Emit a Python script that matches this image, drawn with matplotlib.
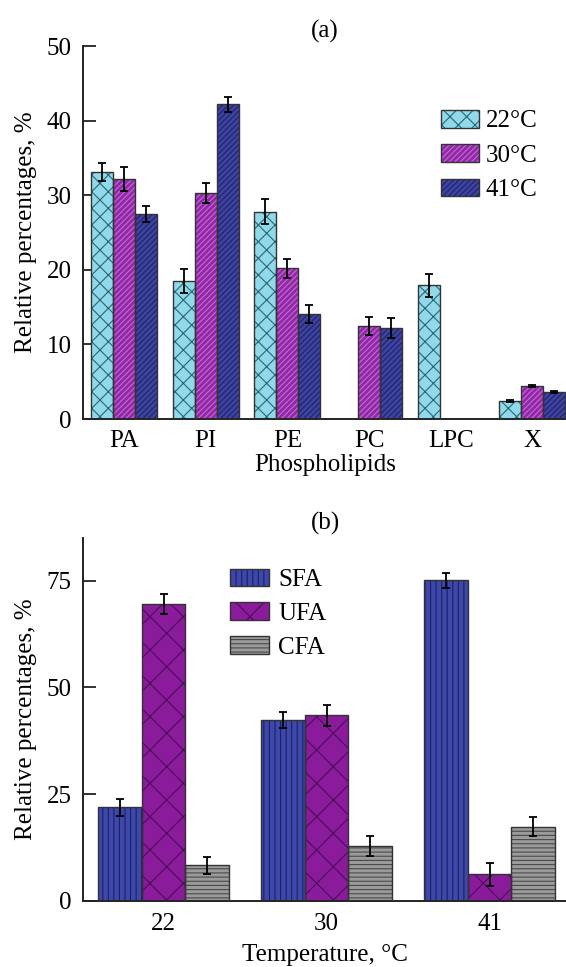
import numpy as np
import matplotlib.pyplot as plt
from matplotlib.patches import Patch
from matplotlib.legend_handler import HandlerTuple

plt.rcParams['font.family'] = ['Liberation Serif', 'DejaVu Serif']
plt.rcParams['hatch.linewidth'] = 0.8

# (a) phospholipid composition
lipids = ['PA', 'PI', 'PE', 'PC', 'LPC', 'X']
temps_a = ['22°C', '30°C', '41°C']
pl_22 = [33.1, 18.5, 27.8, np.nan, 17.9, 2.4]
pl_22_err = [1.2, 1.6, 1.7, 0, 1.5, 0.1]
pl_30 = [32.2, 30.3, 20.2, 12.5, np.nan, 4.4]
pl_30_err = [1.6, 1.4, 1.3, 1.2, 0, 0.15]
pl_41 = [27.5, 42.2, 14.1, 12.2, np.nan, 3.6]
pl_41_err = [1.1, 1.0, 1.2, 1.3, 0, 0.1]

# (b) fatty acid composition
temps_b = ['22', '30', '41']
fa_names = ['SFA', 'UFA', 'CFA']
sfa = [21.9, 42.3, 75.1]
sfa_err = [2.0, 1.9, 1.8]
ufa = [69.5, 43.5, 6.2]
ufa_err = [2.3, 2.5, 2.6]
cfa = [8.4, 12.9, 17.4]
cfa_err = [2.0, 2.3, 2.3]

FS = 18


def hatched_bars(ax, x, vals, errs, width, face, hcol, hatch):
    """Filled hatched bar + dark outline with error bars; returns a legend handle."""
    vals = np.asarray(vals, float)
    errs = np.asarray(errs, float)
    m = ~np.isnan(vals)
    ax.bar(x[m], vals[m], width, color=face, edgecolor=hcol, hatch=hatch,
           linewidth=0, zorder=2)
    ax.bar(x[m], vals[m], width, fill=False, edgecolor='#333333', linewidth=1.0,
           zorder=3, yerr=errs[m], capsize=3,
           error_kw=dict(elinewidth=1.3, capthick=1.3, ecolor='black', zorder=4))
    return (Patch(facecolor=face, edgecolor=hcol, hatch=hatch, linewidth=0),
            Patch(fill=False, edgecolor='#333333', linewidth=1.0))


def style_axes(ax, xpad=8):
    ax.spines['top'].set_visible(False)
    ax.spines['right'].set_visible(False)
    for s in ('left', 'bottom'):
        ax.spines[s].set_linewidth(1.4)
        ax.spines[s].set_color('#222222')
    ax.tick_params(axis='y', direction='in', length=9, width=1.3, pad=8,
                   labelsize=FS, color='#222222')
    ax.tick_params(axis='x', length=0, pad=xpad, labelsize=FS)


fig = plt.figure(figsize=(5.66, 9.67), dpi=100)

# ---- panel (a)
ax1 = fig.add_axes([0.1466, 0.5667, 0.856, 0.3857])
x = np.arange(len(lipids))
w = 0.27
h1 = hatched_bars(ax1, x - w, pl_22, pl_22_err, w, '#8fd9ea', '#2b6670', 'xx')
h2 = hatched_bars(ax1, x, pl_30, pl_30_err, w, '#9128a6', '#c46ad6', '//////')
h3 = hatched_bars(ax1, x + w, pl_41, pl_41_err, w, '#3e43a2', '#1f2366', '//////')
ax1.set_xlim(-0.504, 5.43)
ax1.set_ylim(0, 50)
ax1.set_yticks([0, 10, 20, 30, 40, 50])
ax1.set_xticks(x)
ax1.set_xticklabels(lipids)
style_axes(ax1)
ax1.set_xlabel('Phospholipids', fontsize=FS, labelpad=1)
ax1.set_ylabel('Relative percentages, %', fontsize=FS, labelpad=7)
ax1.set_title('(a)', fontsize=FS, pad=6)
ax1.legend([h1, h2, h3], temps_a, handler_map={tuple: HandlerTuple(ndivide=1, pad=0)},
           loc='upper left', bbox_to_anchor=(0.718, 0.856), frameon=False, fontsize=FS,
           handlelength=1.52, handleheight=0.72, handletextpad=0.28, labelspacing=0.47,
           borderaxespad=0)

# ---- panel (b)
ax2 = fig.add_axes([0.1466, 0.0683, 0.856, 0.3754])
xb = np.arange(len(temps_b))
wb = 0.267
g1 = hatched_bars(ax2, xb - wb, sfa, sfa_err, wb, '#3e48aa', '#1b2060', '|||')
g2 = hatched_bars(ax2, xb, ufa, ufa_err, wb, '#8a1b9b', '#4c0c58', 'x')
g3 = hatched_bars(ax2, xb + wb, cfa, cfa_err, wb, '#9a9a9a', '#4a4a4a', '----')
ax2.set_xlim(-0.494, 2.478)
ax2.set_ylim(0, 85)
ax2.set_yticks([0, 25, 50, 75])
ax2.set_xticks(xb)
ax2.set_xticklabels(temps_b)
style_axes(ax2, xpad=9)
ax2.set_xlabel('Temperature, °C', fontsize=FS, labelpad=6)
ax2.set_ylabel('Relative percentages, %', fontsize=FS, labelpad=7)
ax2.set_title('(b)', fontsize=FS, pad=6)
ax2.legend([g1, g2, g3], fa_names, handler_map={tuple: HandlerTuple(ndivide=1, pad=0)},
           loc='upper left', bbox_to_anchor=(0.2836, 0.943), frameon=False, fontsize=FS,
           handlelength=1.55, handleheight=0.72, handletextpad=0.36, labelspacing=0.44,
           borderaxespad=0)

fig.savefig('out.png', dpi=100)
plt.close(fig)
